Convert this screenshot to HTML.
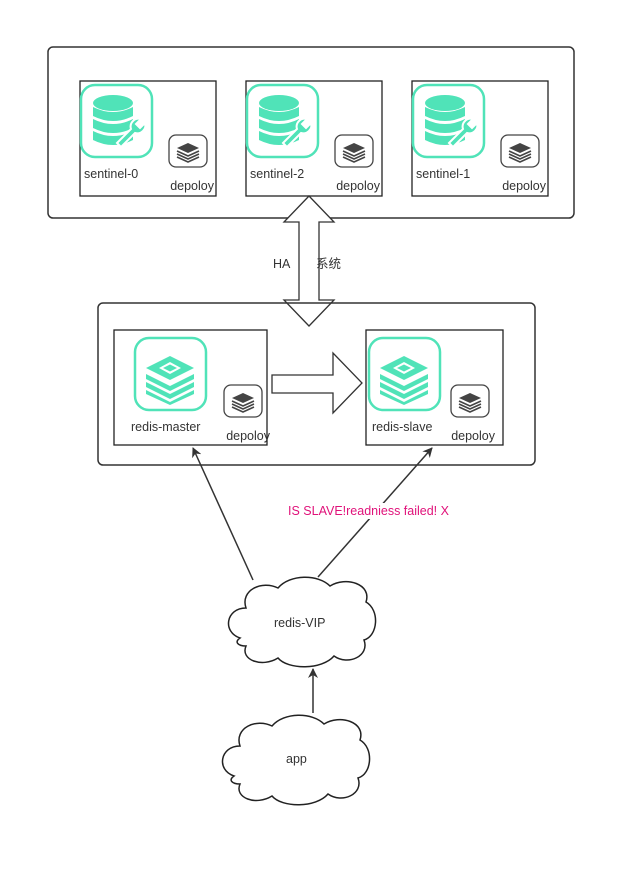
<!DOCTYPE html>
<html><head><meta charset="utf-8"><style>
body{margin:0;background:#fff}
text{font-family:"Liberation Sans","Noto Sans CJK SC",sans-serif;font-size:12.5px;fill:#333}
</style></head><body>
<svg width="636" height="865" viewBox="0 0 636 865" xmlns="http://www.w3.org/2000/svg">
<defs>
<g id="db">
 <rect x="0" y="0" width="71" height="72" rx="14" fill="none" stroke="#50e3b8" stroke-width="2.5"/>
 <ellipse cx="32" cy="18" rx="20" ry="8" fill="#50e3b8"/>
 <path d="M12 22 q20 10 40 0 v9 q-20 10 -40 0z M12 34 q20 10 40 0 v9 q-20 10 -40 0z M12 46 q20 10 40 0 v9 q-20 10 -40 0z" fill="#50e3b8"/>
 <path d="M36 58 l14 -14 a8 8 0 0 1 10 -10 l-5 5 4 4 5 -5 a8 8 0 0 1 -10 10 l-14 14z" fill="#50e3b8" stroke="#fff" stroke-width="2"/>
</g>
<g id="rd">
 <rect x="0" y="0" width="71" height="72" rx="14" fill="none" stroke="#50e3b8" stroke-width="2.5"/>
 <path d="M11 30 l24 -12 24 12 -24 12z" fill="#50e3b8"/>
 <path d="M11 36 l24 12 24 -12 v5 l-24 12 -24 -12z M11 44 l24 12 24 -12 v5 l-24 12 -24 -12z M11 52 l24 12 24 -12 v4 l-24 11 -24 -11z" fill="#50e3b8"/>
 <path d="M24 30 l11 -6 11 6 -11 6z" fill="#fff"/>
 <path d="M28 30 l7 -3.5 7 3.5 -7 3.5z" fill="#50e3b8"/>
</g>
<g id="dp">
 <rect x="0" y="0" width="38" height="32" rx="7" fill="none" stroke="#444" stroke-width="1.3"/>
 <path d="M8 13 l11 -5 11 5 -11 5z" fill="#444"/>
 <path d="M8 16 l11 5 11 -5 M8 19 l11 5 11 -5 M8 22 l11 5 11 -5" fill="none" stroke="#444" stroke-width="1.6"/>
</g>
<path id="cloud" d="M240 638 C222 632 226 608 246 608 C240 590 262 580 278 588 C290 574 318 574 330 586 C346 576 372 584 366 602 C380 610 378 636 364 640 C370 656 348 666 334 656 C322 670 288 670 278 658 C262 668 240 660 246 646 C238 646 234 642 240 638 Z"/>
<marker id="ah" viewBox="0 0 10 10" refX="9" refY="5" markerWidth="10" markerHeight="10" orient="auto" markerUnits="userSpaceOnUse"><path d="M0 0 L10 5 L0 10 L3 5z" fill="#333"/></marker>
</defs>
<rect x="48" y="47" width="526" height="171" rx="5" fill="none" stroke="#333" stroke-width="1.5"/>
<rect x="80" y="81" width="136" height="115" fill="none" stroke="#222" stroke-width="1.3"/>
<rect x="246" y="81" width="136" height="115" fill="none" stroke="#222" stroke-width="1.3"/>
<rect x="412" y="81" width="136" height="115" fill="none" stroke="#222" stroke-width="1.3"/>
<use href="#db" x="81" y="85"/><use href="#dp" x="169" y="135"/>
<use href="#db" x="247" y="85"/><use href="#dp" x="335" y="135"/>
<use href="#db" x="413" y="85"/><use href="#dp" x="501" y="135"/>
<text x="84" y="178">sentinel-0</text><text x="214" y="190" text-anchor="end">depoloy</text>
<text x="250" y="178">sentinel-2</text><text x="380" y="190" text-anchor="end">depoloy</text>
<text x="416" y="178">sentinel-1</text><text x="546" y="190" text-anchor="end">depoloy</text>
<path d="M309 196 L334 222 L319 222 L319 300 L334 300 L309 326 L284 300 L299 300 L299 222 L284 222 Z" fill="#fff" stroke="#333" stroke-width="1.3"/>
<text x="273" y="268">HA</text><text x="316" y="268">系统</text>
<rect x="98" y="303" width="437" height="162" rx="5" fill="none" stroke="#333" stroke-width="1.5"/>
<rect x="114" y="330" width="153" height="115" fill="none" stroke="#222" stroke-width="1.3"/>
<rect x="366" y="330" width="137" height="115" fill="none" stroke="#222" stroke-width="1.3"/>
<use href="#rd" x="135" y="338"/><use href="#dp" x="224" y="385"/>
<use href="#rd" x="369" y="338"/><use href="#dp" x="451" y="385"/>
<text x="131" y="431">redis-master</text><text x="270" y="440" text-anchor="end">depoloy</text>
<text x="372" y="431">redis-slave</text><text x="495" y="440" text-anchor="end">depoloy</text>
<path d="M272 375 L333 375 L333 353 L362 383 L333 413 L333 393 L272 393 Z" fill="#fff" stroke="#333" stroke-width="1.3"/>
<line x1="253" y1="580" x2="193" y2="448" stroke="#333" stroke-width="1.5" marker-end="url(#ah)"/>
<line x1="318" y1="577" x2="432" y2="448" stroke="#333" stroke-width="1.5" marker-end="url(#ah)"/>
<rect x="286" y="503" width="176" height="16" fill="#fff"/>
<text x="288" y="515" style="fill:#e0127a">IS SLAVE!readniess failed! X</text>
<use href="#cloud" fill="#fff" stroke="#222" stroke-width="1.5"/>
<text x="274" y="627">redis-VIP</text>
<line x1="313" y1="713" x2="313" y2="669" stroke="#333" stroke-width="1.5" marker-end="url(#ah)"/>
<g transform="translate(-6,138)"><use href="#cloud" fill="#fff" stroke="#222" stroke-width="1.5"/></g>
<text x="286" y="763">app</text>
</svg>
</body></html>
